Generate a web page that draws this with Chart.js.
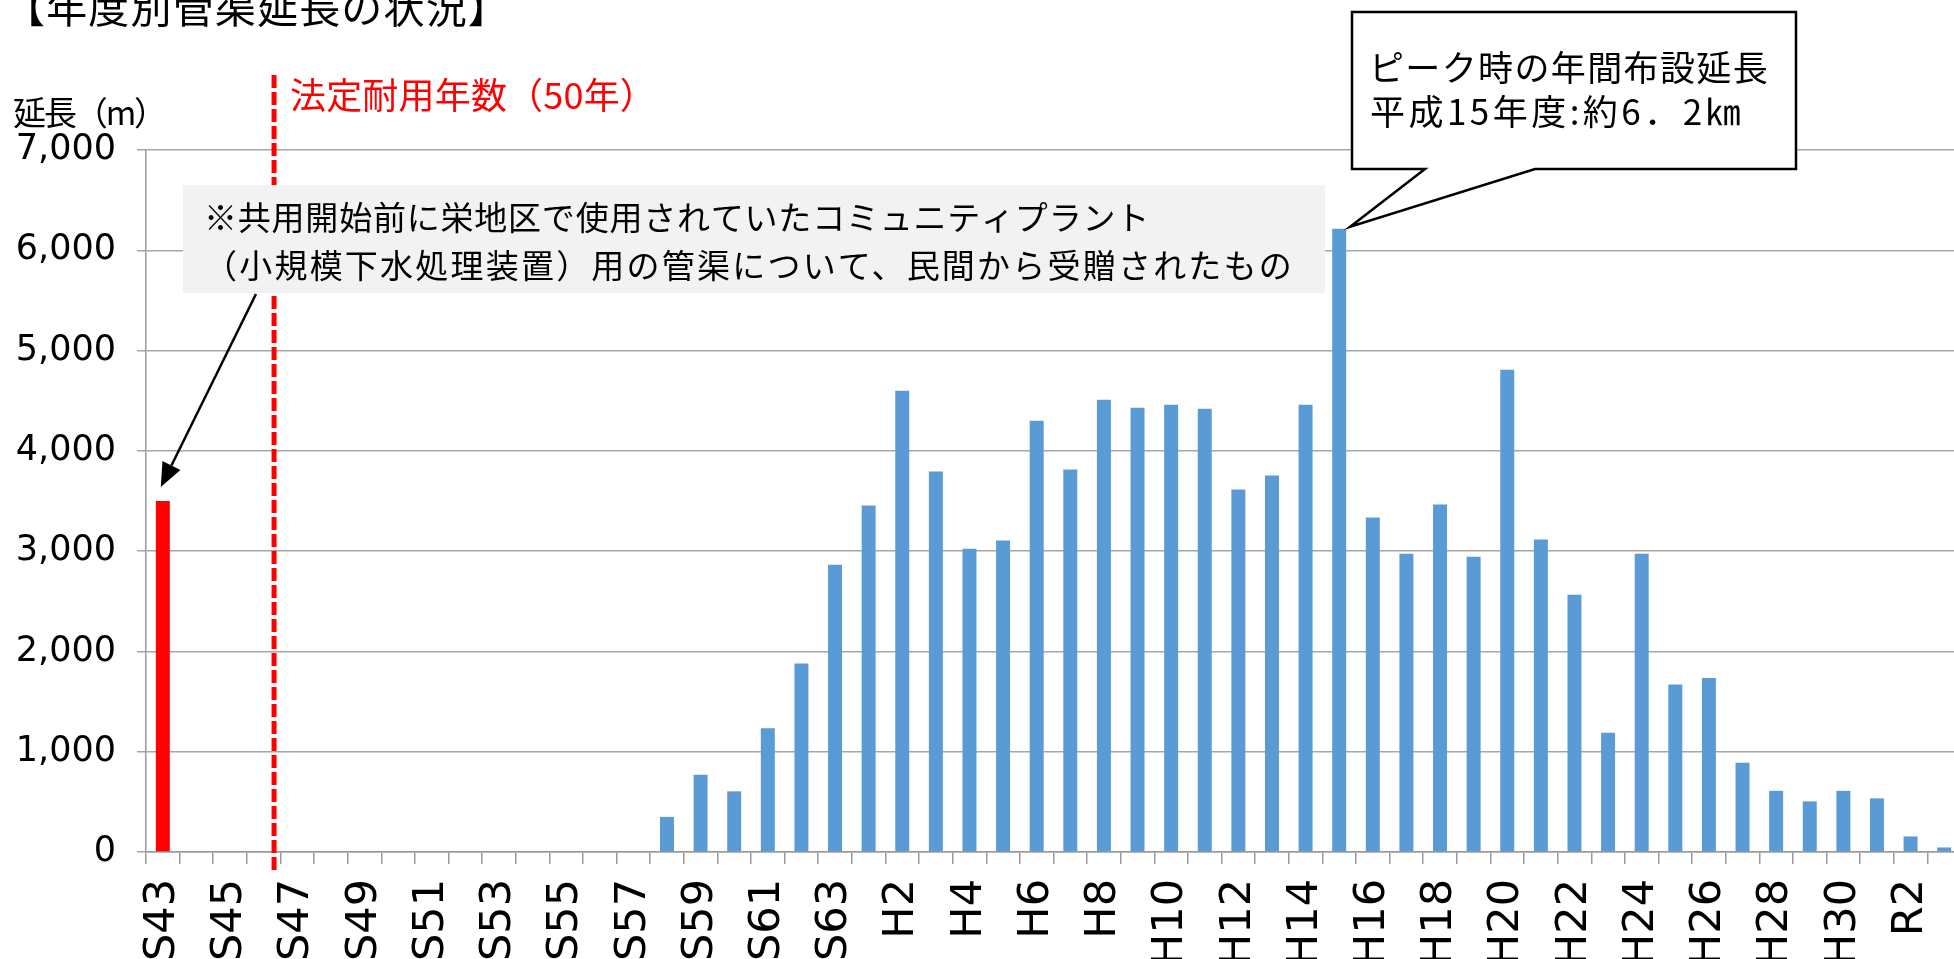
<!DOCTYPE html>
<html lang="ja">
<head>
<meta charset="utf-8">
<title>年度別管渠延長の状況</title>
<script src="https://cdn.jsdelivr.net/npm/chart.js@4.4.1/dist/chart.umd.min.js"></script>
<style>
  html, body { margin: 0; padding: 0; background: #fff; overflow: hidden; }
  #wrap { position: relative; width: 1961px; height: 959px; }
</style>
</head>
<body>
<div id="wrap"><canvas id="chart"></canvas></div>
<script>
// 年度 (S43 - R3)
const years = [
  "S43", "S44", "S45", "S46", "S47", "S48", "S49", "S50", "S51", "S52",
  "S53", "S54", "S55", "S56", "S57", "S58", "S59", "S60", "S61", "S62", "S63",
  "H1", "H2", "H3", "H4", "H5", "H6", "H7", "H8", "H9", "H10",
  "H11", "H12", "H13", "H14", "H15", "H16", "H17", "H18", "H19", "H20",
  "H21", "H22", "H23", "H24", "H25", "H26", "H27", "H28", "H29", "H30",
  "R1", "R2", "R3"
];

// 延長 (m)
const lengths = [
  3500, 0, 0, 0, 0, 0, 0, 0, 0, 0,
  0, 0, 0, 0, 0, 350, 770, 605, 1235, 1880, 2865,
  3455, 4600, 3795, 3025, 3105, 4300, 3815, 4510, 4430, 4460,
  4420, 3615, 3755, 4460, 6215, 3335, 2975, 3465, 2945, 4810,
  3115, 2565, 1190, 2975, 1670, 1735, 890, 610, 505, 610,
  535, 155, 45
];

const yTicks = [0, 1000, 2000, 3000, 4000, 5000, 6000, 7000];

const donatedIndex = 0;   // 民間から受贈された管渠 (S43)
const peakIndex = 35;     // H15
const serviceLifeAt = 3.31; // 法定耐用年数(50年)の線

const barColors = years.map((_, i) => i === donatedIndex ? "#FF0000" : "#5B9BD5");

function fitText(ctx, text, x, y, width) {
  ctx.letterSpacing = "0px";
  const w = ctx.measureText(text).width;
  if (width) ctx.letterSpacing = ((width - w) / text.length) + "px";
  ctx.fillText(text, x, y);
  ctx.letterSpacing = "0px";
}

const notes = {
  id: "notes",
  afterDraw(chart) {
    const { ctx, scales: { x, y } } = chart;
    const jp = '"Noto Sans CJK JP", "Noto Sans", sans-serif';
    ctx.save();

    // 法定耐用年数の線
    const lx = x.getPixelForValue(serviceLifeAt);
    ctx.strokeStyle = "#FF0000";
    ctx.lineWidth = 5;
    ctx.setLineDash([13, 4]);
    ctx.beginPath();
    ctx.moveTo(lx, 75);
    ctx.lineTo(lx, 872);
    ctx.stroke();
    ctx.setLineDash([]);

    // タイトル
    ctx.fillStyle = "#000";
    ctx.textAlign = "left";
    ctx.textBaseline = "alphabetic";
    ctx.font = "41px " + jp;
    fitText(ctx, "【年度別管渠延長の状況】", 4, 23, 506);

    ctx.textBaseline = "middle";
    ctx.font = "33px " + jp;
    fitText(ctx, "延長（m）", 13, 112, 152);

    ctx.fillStyle = "#FF0000";
    ctx.font = "36px " + jp;
    fitText(ctx, "法定耐用年数（50年）", 290, 95, 366);

    // 注記ボックス
    ctx.fillStyle = "#F2F2F2";
    ctx.fillRect(183, 185, 1142, 108);
    ctx.fillStyle = "#000";
    ctx.font = "33px " + jp;
    fitText(ctx, "※共用開始前に栄地区で使用されていたコミュニティプラント", 204, 217, 946);
    fitText(ctx, "（小規模下水処理装置）用の管渠について、民間から受贈されたもの", 204, 265, 1090);

    // 矢印
    const ax0 = 256, ay0 = 294;
    const ax1 = x.getPixelForValue(donatedIndex) - 2;
    const ay1 = y.getPixelForValue(lengths[donatedIndex]) - 14;
    const ang = Math.atan2(ay1 - ay0, ax1 - ax0);
    const head = 24, half = 10;
    const bx = ax1 - head * Math.cos(ang), by = ay1 - head * Math.sin(ang);
    ctx.strokeStyle = "#000";
    ctx.lineWidth = 2.5;
    ctx.beginPath();
    ctx.moveTo(ax0, ay0);
    ctx.lineTo(bx, by);
    ctx.stroke();
    ctx.beginPath();
    ctx.moveTo(ax1, ay1);
    ctx.lineTo(bx + half * Math.sin(ang), by - half * Math.cos(ang));
    ctx.lineTo(bx - half * Math.sin(ang), by + half * Math.cos(ang));
    ctx.closePath();
    ctx.fill();

    // 吹き出し
    const tx = x.getPixelForValue(peakIndex) + 11;
    const ty = y.getPixelForValue(lengths[peakIndex]) - 2;
    ctx.beginPath();
    ctx.moveTo(1352, 12);
    ctx.lineTo(1796, 12);
    ctx.lineTo(1796, 169);
    ctx.lineTo(1535, 169);
    ctx.lineTo(tx, ty);
    ctx.lineTo(1425, 169);
    ctx.lineTo(1352, 169);
    ctx.closePath();
    ctx.fillStyle = "#fff";
    ctx.fill();
    ctx.lineWidth = 2.5;
    ctx.strokeStyle = "#000";
    ctx.stroke();
    ctx.fillStyle = "#000";
    ctx.font = "35px " + jp;
    fitText(ctx, "ピーク時の年間布設延長", 1369, 68, 400);
    fitText(ctx, "平成15年度:約6．2㎞", 1370, 112, 374);

    ctx.restore();
  }
};

new Chart(document.getElementById("chart"), {
  type: "bar",
  data: {
    labels: years,
    datasets: [{
      data: lengths,
      backgroundColor: barColors,
      barPercentage: 0.416,
      categoryPercentage: 1.0
    }]
  },
  options: {
    responsive: true,
    maintainAspectRatio: false,
    animation: false,
    events: [],
    layout: { padding: { top: 150, left: 0, right: 0, bottom: 0 } },
    plugins: {
      legend: { display: false },
      tooltip: { enabled: false }
    },
    scales: {
      x: {
        offset: true,
        grid: {
          offset: true,
          drawOnChartArea: false,
          drawTicks: true,
          tickLength: 12,
          color: "#9a9a9a",
          lineWidth: 1.5
        },
        border: { display: true, color: "#9a9a9a", width: 1.5 },
        ticks: {
          autoSkip: false,
          minRotation: 90,
          maxRotation: 90,
          padding: 15,
          color: "#000",
          font: { family: "DejaVu Sans", size: 43 },
          callback: (v, i) => i % 2 === 0 ? years[i] : ""
        },
        afterFit: (s) => { s.height = 107; s.paddingLeft = 0; s.paddingRight = 0; }
      },
      y: {
        min: yTicks[0],
        max: yTicks[yTicks.length - 1],
        grid: {
          color: "#a6a6a6",
          lineWidth: 1.5,
          drawTicks: true,
          tickLength: 9
        },
        border: { display: true, color: "#9a9a9a", width: 1.5 },
        ticks: {
          stepSize: yTicks[1] - yTicks[0],
          padding: 21,
          color: "#000",
          font: { family: "DejaVu Sans", size: 35 },
          callback: (v) => v.toLocaleString("en-US")
        },
        afterFit: (s) => { s.width = 146; }
      }
    }
  },
  plugins: [notes]
});
</script>
</body>
</html>
